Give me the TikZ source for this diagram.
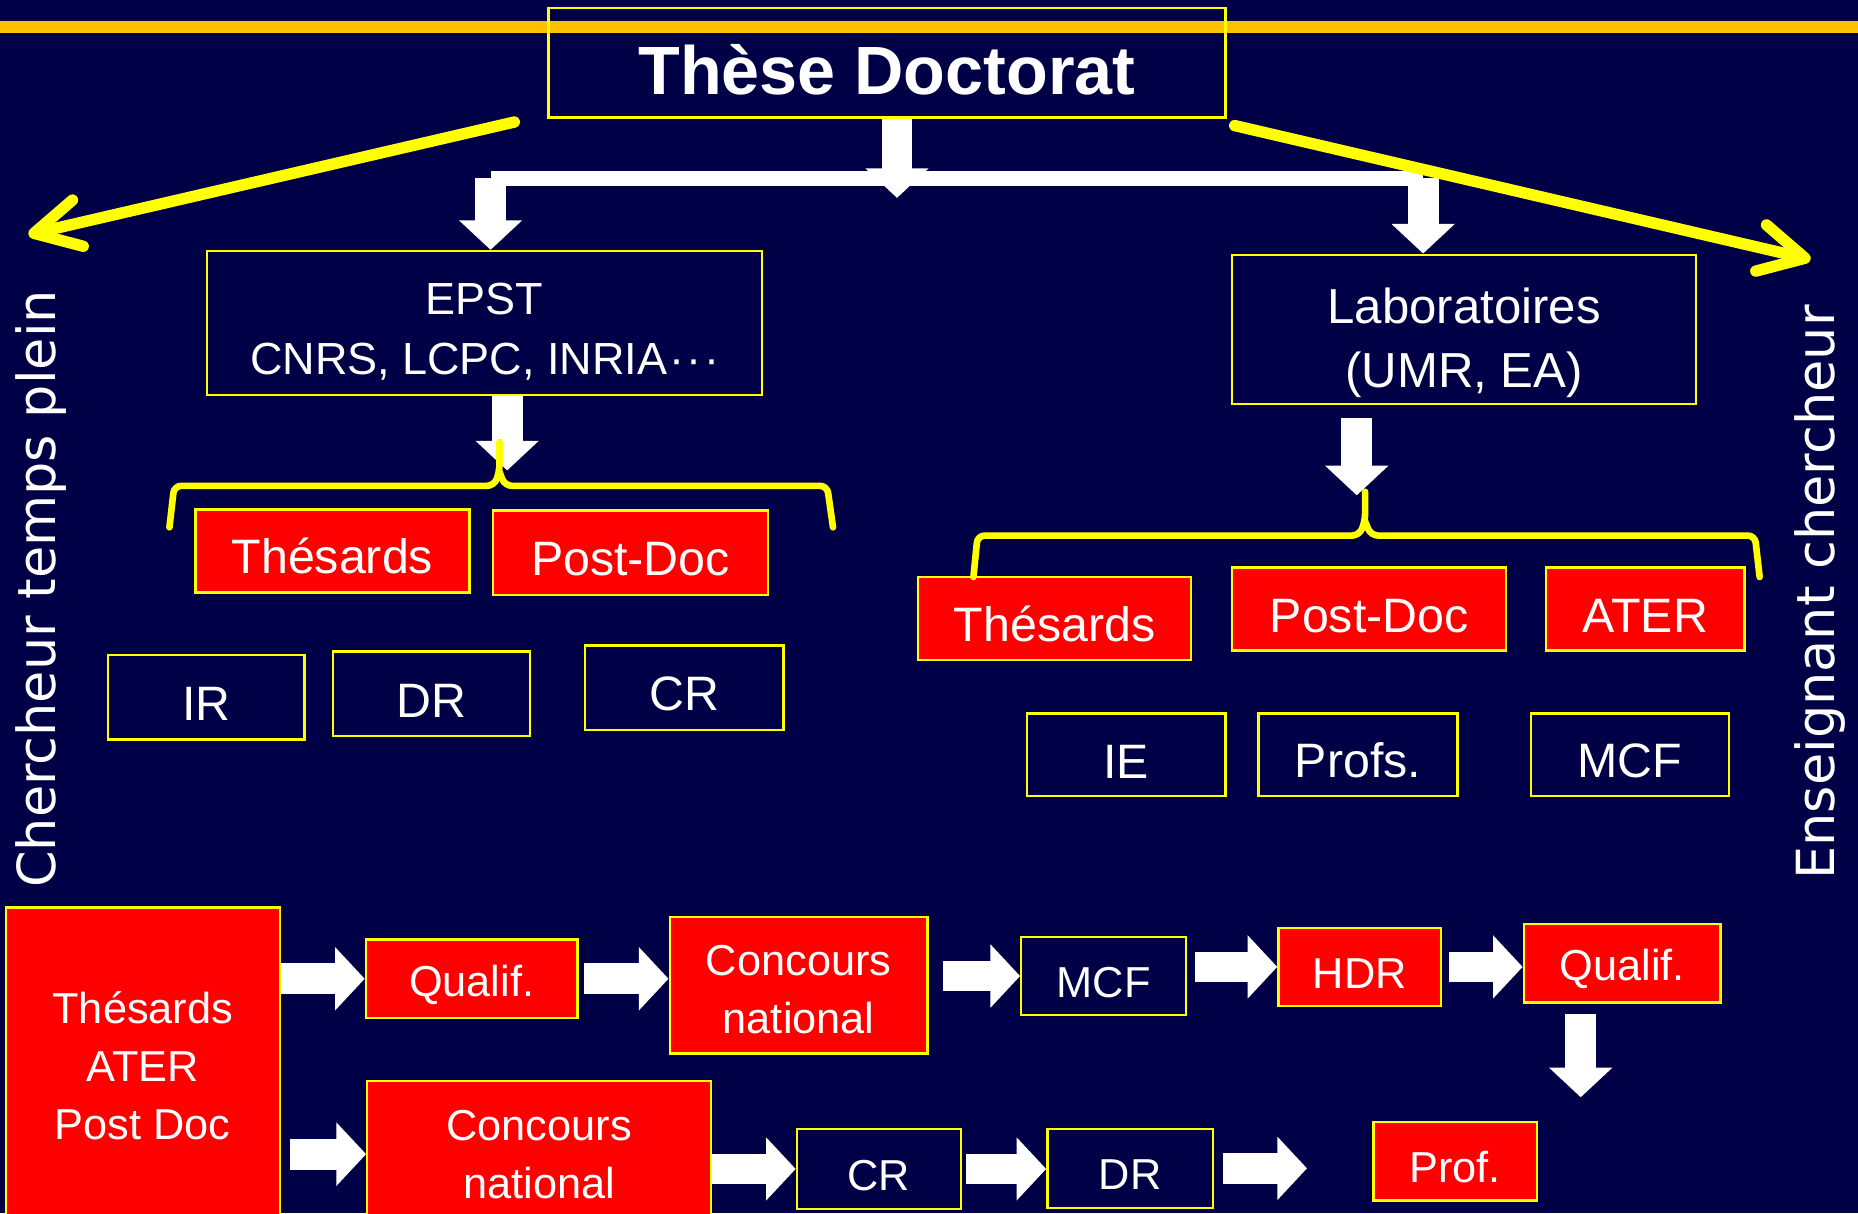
\documentclass[tikz,border=0pt]{standalone}
\usepackage{fontspec}
\setmainfont{Liberation Sans}
\newfontfamily\sidefont{DejaVu Sans}
\usetikzlibrary{arrows.meta}

\definecolor{navy}{RGB}{0,0,70}
\definecolor{rule}{RGB}{255,192,0}
\definecolor{frame}{RGB}{255,255,0}
% pushes the text of a box a little down
\newcommand\boxstrut[1][0.25cm]{\rule{0pt}{\dimexpr0.716em+#1\relax}}

\begin{document}
\begin{tikzpicture}
      [x=0.025cm,y=-0.025cm,
      every node/.style={shape=rectangle,align=center,text=white,inner sep=0pt},
      box/.style={draw=frame,line width=0.05cm},
      redbox/.style={box,fill=red},
      toptext/.style={font=\fontsize{29}{37}\selectfont},
      lowtext/.style={font=\fontsize{26}{34.8}\selectfont},
      blockarrow/.style={draw=white,line width=0.65cm,-{Triangle[length=0.625cm,width=1.3cm]}},
      sidearrow/.style={draw=frame,line width=0.24cm,line cap=round,-{Straight Barb[length=0.95cm,width=1cm,round]}},
      brace/.style={draw=frame,line width=0.14cm,rounded corners=0.15cm,line cap=round}]
\fill[navy] (0,0) rectangle (1568,1024);
\useasboundingbox (0,0) rectangle (1568,1024);
\clip (0,0) rectangle (1568,1024);
\fill[rule] (0,18) rectangle (1568,28);

% top: thesis and the two ways
\node[box,minimum width=14.28cm,minimum height=2.3cm,font=\bfseries\fontsize{41}{48}\selectfont]
    (title) at (748.5,53) {\boxstrut[0.3cm]Thèse Doctorat};
\node[box,minimum width=11.7cm,minimum height=3.03cm,font=\fontsize{27}{35.6}\selectfont]
    (epst) at (409,272.5) {\boxstrut[0.35cm]EPST\\CNRS, LCPC, INRIA\kern0.05em·\kern0.05em·\kern0.05em·};
\node[box,minimum width=9.78cm,minimum height=3.15cm,font=\fontsize{29.5}{38.4}\selectfont]
    (labo) at (1235.5,278) {\boxstrut[0.57cm]Laboratoires\\(UMR, EA)};

% EPST side
\node[redbox,toptext,minimum width=5.78cm,minimum height=1.75cm] (thesL) at (280.5,465) {\boxstrut Thésards};
\node[redbox,toptext,minimum width=5.8cm,minimum height=1.78cm] (postL) at (532,466.5) {\boxstrut Post-Doc};
\node[box,toptext,minimum width=4.15cm,minimum height=1.78cm] (ir) at (174,588.5) {\boxstrut IR};
\node[box,toptext,minimum width=4.15cm,minimum height=1.78cm] (drA) at (364,585.5) {\boxstrut DR};
\node[box,toptext,minimum width=4.18cm,minimum height=1.78cm] (crA) at (577.5,580.5) {\boxstrut CR};

% lab side
\node[redbox,toptext,minimum width=5.75cm,minimum height=1.75cm] (thesR) at (890,522) {\boxstrut Thésards};
\node[redbox,toptext,minimum width=5.78cm,minimum height=1.75cm] (postR) at (1155.5,514) {\boxstrut Post-Doc};
\node[redbox,toptext,minimum width=4.18cm,minimum height=1.75cm] (ater) at (1388.5,514) {\boxstrut ATER};
\node[box,toptext,minimum width=4.18cm,minimum height=1.75cm] (ie) at (950.5,637) {\boxstrut IE};
\node[box,toptext,minimum width=4.2cm,minimum height=1.75cm] (profs) at (1146,637) {\boxstrut Profs.};
\node[box,toptext,minimum width=4.18cm,minimum height=1.75cm] (mcfA) at (1375.5,637) {\boxstrut MCF};

% side titles
\node[rotate=90,font=\sidefont\fontsize{31.5}{36}\selectfont] (fulltime) at (35,497) {Chercheur temps plein};
\node[rotate=90,font=\sidefont\fontsize{31.5}{36}\selectfont] (teacher) at (1536,500) {Enseignant chercheur};

% careers
\node[redbox,lowtext,minimum width=5.78cm,minimum height=6.68cm] (all) at (120.5,899.5) {Thésards\\ATER\\Post Doc};
\node[redbox,lowtext,minimum width=4.46cm,minimum height=1.66cm] (qualifA) at (398,826) {\boxstrut Qualif.};
\node[redbox,lowtext,minimum width=5.44cm,minimum height=2.88cm] (concA) at (674,831.5) {\boxstrut[0.18cm]Concours\\national};
\node[box,lowtext,minimum width=3.48cm,minimum height=1.64cm] (mcfB) at (931.5,823.7) {\boxstrut MCF};
\node[redbox,lowtext,minimum width=3.43cm,minimum height=1.65cm] (hdr) at (1147.5,816) {\boxstrut HDR};
\node[redbox,lowtext,minimum width=4.15cm,minimum height=1.65cm] (qualifB) at (1369,813) {\boxstrut Qualif.};
\node[redbox,lowtext,minimum width=3.45cm,minimum height=1.65cm] (prof) at (1228,980) {\boxstrut Prof.};
\node[redbox,lowtext,minimum width=7.25cm,minimum height=3.08cm] (concB) at (455,974) {Concours\\national};
\node[box,lowtext,minimum width=3.46cm,minimum height=1.68cm] (crB) at (741.7,986.5) {\boxstrut CR};
\node[box,lowtext,minimum width=3.49cm,minimum height=1.66cm] (drB) at (953.7,986) {\boxstrut DR};

% white arrows, top
\coordinate (split) at (757,150.5);
\coordinate (splittip) at (757,167);
\coordinate (bl) at (414,150.5);
\coordinate (br) at (1201,150.5);
\draw[blockarrow] (title.south -| split) -- (splittip);
\draw[white,line width=0.325cm] (bl) -- (br);
\draw[blockarrow] (bl) -- (bl |- epst.north);
\draw[blockarrow] (br) -- (br |- labo.north);
\coordinate (epstdrop) at (428,397);
\coordinate (labodrop) at (1145,418);
\draw[blockarrow] (epst.south -| epstdrop) -- (epstdrop);
\draw[blockarrow,shorten <=0.275cm] (labo.south -| labodrop) -- (labodrop);

% yellow arrows
\coordinate (lstart) at (434,103);
\coordinate (lend) at (24,198);
\coordinate (rstart) at (1042,106);
\coordinate (rend) at (1528,219);
\draw[sidearrow] (lstart) -- (lend);
\draw[sidearrow] (rstart) -- (rend);

% braces
\draw[brace] (143,445) -- (147,410) -- (417,410) -- (421.5,398) -- (421.5,373);
\draw[brace] (421.5,398) -- (426,410) -- (698,410) -- (703,445);
\draw[brace] (821.5,487) -- (825,452) -- (1147,452) -- (1152,440) -- (1152,415);
\draw[brace] (1152,440) -- (1157,452) -- (1481,452) -- (1485,487);

% white arrows, careers
\draw[blockarrow] (all.east |- qualifA.west) -- (qualifA.west);
\draw[blockarrow,shorten <=0.12cm] (qualifA.east) -- (qualifA.east -| concA.west);
\draw[blockarrow,shorten <=0.3cm] (concA.east |- mcfB.west) -- (mcfB.west);
\draw[blockarrow,shorten <=0.15cm] (mcfB.east |- hdr.west) -- (hdr.west);
\draw[blockarrow,shorten <=0.15cm] (hdr.east) -- (hdr.east -| qualifB.west);
\coordinate (drop) at (1334,926);
\draw[blockarrow,shorten <=0.22cm] (qualifB.south -| drop) -- (drop);
\draw[blockarrow,shorten <=0.2cm] (all.east |- concB.west) -- (concB.west);
\draw[blockarrow] (concB.east |- crB.west) -- (crB.west);
\draw[blockarrow,shorten <=0.08cm] (crB.east) -- (crB.east -| drB.west);
\coordinate (loose) at (1103,986);
\draw[blockarrow,shorten <=0.2cm] (drB.east) -- (loose);
\end{tikzpicture}
\end{document}
